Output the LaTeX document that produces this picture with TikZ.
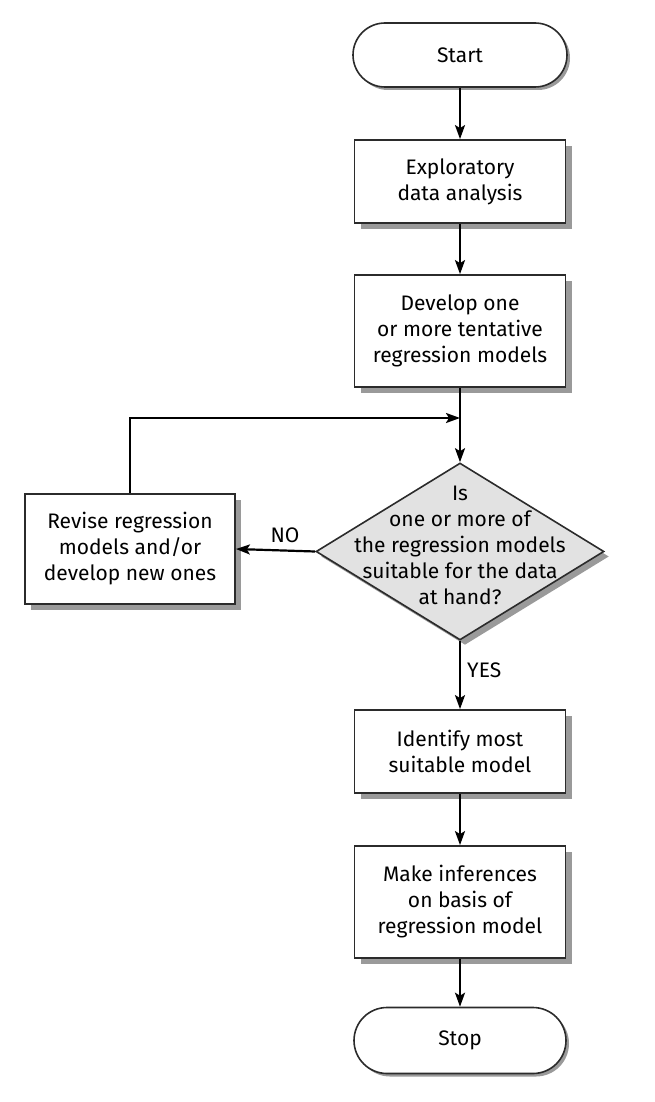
\documentclass[tikz,border=0pt]{standalone}
\usepackage{fontspec}
\setmainfont{Fira Sans}
\usetikzlibrary{shapes.geometric,shapes.misc,arrows.meta,shadows}
\definecolor{edge}{HTML}{2B2B2B}
\definecolor{shade}{HTML}{9A9A9A}
\definecolor{dfill}{HTML}{E2E2E2}
\begin{document}
\begin{tikzpicture}[x=1pt,y=-1pt,
  every node/.style={font=\fontsize{21}{26}\selectfont, text=black},
  boxsty/.style={draw=edge, line width=1.8pt, fill=white, rectangle, inner sep=0pt, align=center,
    drop shadow={shadow xshift=6pt, shadow yshift=-6pt, fill=shade, opacity=1}},
  termsty/.style={draw=edge, line width=1.6pt, fill=white, rounded rectangle, inner sep=0pt, align=center,
    drop shadow={shadow xshift=3pt, shadow yshift=-3pt, fill=shade, opacity=1}},
  arr/.style={draw=black, line width=2.2pt, -{Stealth[length=14pt,width=10pt,inset=3pt]}},
  lbl/.style={inner sep=0pt}
]
\useasboundingbox (0,0) rectangle (654,1102);

\node[termsty, minimum width=214pt, minimum height=64pt] (start) at (460,55) {Start};
\node[boxsty, minimum width=211pt, minimum height=83pt] (expl) at (460,181.5) {Exploratory\\data analysis};
\node[boxsty, minimum width=211pt, minimum height=112pt] (dev) at (460,331) {Develop one\\or more tentative\\regression models};
\node[diamond, draw=edge, line width=1.6pt, fill=dfill, inner sep=0pt, minimum width=288pt, minimum height=177pt,
  drop shadow={shadow xshift=5pt, shadow yshift=-5pt, fill=shade, opacity=1}] (dia) at (460,551.5) {};
\node[lbl, align=center] (diatext) at (460,545) {Is\\one or more of\\the regression models\\suitable for the data\\at hand?};
\node[boxsty, minimum width=210pt, minimum height=110pt] (rev) at (130,549) {Revise regression\\models and/or\\develop new ones};
\node[boxsty, minimum width=211pt, minimum height=83pt] (ident) at (460,751.5) {Identify most\\suitable model};
\node[boxsty, minimum width=211pt, minimum height=112pt] (make) at (460,902) {Make inferences\\on basis of\\regression model};
\node[termsty, minimum width=212pt, minimum height=66pt] (stop) at (460,1040.5) {Stop};

\coordinate (join) at (460,418);

\draw[arr] (start.south) -- (expl.north);
\draw[arr] (expl.south) -- (dev.north);
\draw[arr] (dev.south) -- (dia.north);
\draw[arr] (rev.north) |- (join);
\draw[arr] (dia.west) -- (rev.east);
\draw[arr] (dia.south) -- (ident.north);
\draw[arr] (ident.south) -- (make.north);
\draw[arr] (make.south) -- (stop.north);

\node[lbl] (no) at (285,535) {NO};
\node[lbl, anchor=west] (yes) at (467,670) {YES};
\end{tikzpicture}
\end{document}
